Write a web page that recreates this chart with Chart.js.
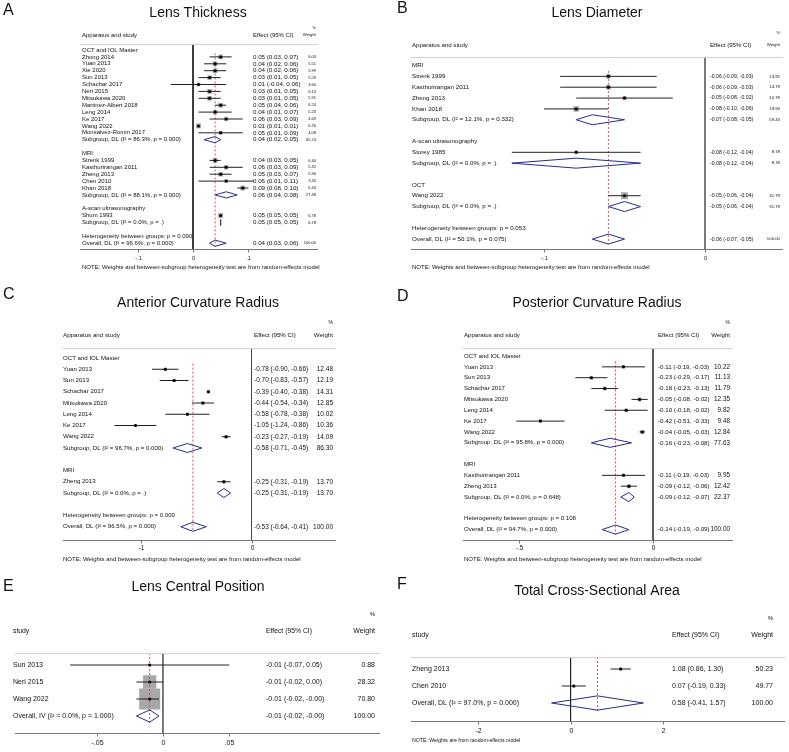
<!DOCTYPE html>
<html>
<head>
<meta charset="utf-8">
<script src="https://cdn.jsdelivr.net/npm/chart.js@4.4.0/dist/chart.umd.min.js"></script>
<style>
  body { margin: 0; background: #fff; }
  #page { position: relative; width: 789px; height: 752px; background: #fff; overflow: hidden; }
  canvas { position: absolute; }
</style>
</head>
<body>
<div id="page"></div>
<script>
// A: Lens Thickness
const thickLabels = ['OCT and IOL Master', 'Zhong 2014', 'Yuan 2013', 'Xie 2020', 'Sun 2013', 'Schachar 2017', 'Neri 2015',
  'Mitsukawa 2020', 'Martinez-Albert 2018', 'Leng 2014', 'Ke 2017', 'Wang 2022', 'Monsalvez-Romin 2017',
  'Subgroup, DL (I² = 86.3%, p = 0.000)', '', 'MRI', 'Strenk 1999', 'Kasthurirangan 2011', 'Zheng 2013', 'Chen 2010',
  'Khan 2018', 'Subgroup, DL (I² = 88.1%, p = 0.000)', '', 'A-scan ultrasonography', 'Shum 1993',
  'Subgroup, DL (I² = 0.0%, p = .)', '', 'Heterogeneity between groups: p = 0.090', 'Overall, DL (I² = 96.6%, p = 0.000)'];
const thickKind = ['grp', 'stu', 'stu', 'stu', 'stu', 'stu', 'stu', 'stu', 'stu', 'stu', 'stu', 'stu', 'stu', 'sub', '',
  'grp', 'stu', 'stu', 'stu', 'stu', 'stu', 'sub', '', 'grp', 'stu', 'sub', '', 'het', 'all'];
const thickEst = [null, .05, .04, .04, .03, .01, .03, .03, .05, .04, .06, .01, .05, .04, null, null, .04, .06, .05, .06, .09, .06, null, null, .05, .05, null, null, .04];
const thickLo = [null, .03, .02, .02, .01, -.04, .01, .01, .04, .01, .03, .01, .01, .02, null, null, .03, .03, .03, .01, .08, .04, null, null, .05, .05, null, null, .03];
const thickHi = [null, .07, .06, .06, .05, .06, .05, .05, .06, .07, .09, .01, .09, .05, null, null, .05, .09, .07, .11, .10, .08, null, null, .05, .05, null, null, .06];
const thickWt = [null, 6.03, 5.51, 5.99, 5.59, 3.60, 6.13, 5.91, 6.24, 5.23, 4.69, 6.76, 4.08, 65.74, null, null, 6.40, 5.32, 5.96, 3.45, 6.34, 27.48, null, null, 6.78, 6.78, null, null, 100.00];
const thickTicks = [-0.1, 0, 0.1];
const thickTickLabels = ['-.1', '0', '.1'];

// B: Lens Diameter
const diamLabels = ['MRI', 'Strenk 1999', 'Kasthurirangan 2011', 'Zheng 2013', 'Khan 2018', 'Subgroup, DL (I² = 12.1%, p = 0.332)', '',
  'A-scan ultrasonography', 'Storey 1985', 'Subgroup, DL (I² = 0.0%, p = .)', '', 'OCT', 'Wang 2022',
  'Subgroup, DL (I² = 0.0%, p = .)', '', 'Heterogeneity between groups: p = 0.053', 'Overall, DL (I² = 50.1%, p = 0.075)'];
const diamKind = ['grp', 'stu', 'stu', 'stu', 'stu', 'sub', '', 'grp', 'stu', 'sub', '', 'grp', 'stu', 'sub', '', 'het', 'all'];
const diamEst = [null, -.06, -.06, -.05, -.08, -.07, null, null, -.08, -.08, null, null, -.05, -.05, null, null, -.06];
const diamLo = [null, -.09, -.09, -.08, -.10, -.08, null, null, -.12, -.12, null, null, -.06, -.06, null, null, -.07];
const diamHi = [null, -.03, -.03, -.02, -.06, -.05, null, null, -.04, -.04, null, null, -.04, -.04, null, null, -.05];
const diamWt = [null, 13.92, 14.79, 10.78, 19.94, 59.43, null, null, 8.78, 8.78, null, null, 31.79, 31.79, null, null, 100.00];
const diamTicks = [-0.1, 0];
const diamTickLabels = ['-.1', '0'];

// C: Anterior Curvature Radius
const antLabels = ['OCT and IOL Master', 'Yuan 2013', 'Sun 2013', 'Schachar 2017', 'Mitsukawa 2020', 'Leng 2014', 'Ke 2017', 'Wang 2022',
  'Subgroup, DL (I² = 96.7%, p = 0.000)', '', 'MRI', 'Zheng 2013', 'Subgroup, DL (I² = 0.0%, p = .)', '',
  'Heterogeneity between groups: p = 0.000', 'Overall, DL (I² = 96.5%, p = 0.000)'];
const antKind = ['grp', 'stu', 'stu', 'stu', 'stu', 'stu', 'stu', 'stu', 'sub', '', 'grp', 'stu', 'sub', '', 'het', 'all'];
const antEst = [null, -.78, -.70, -.39, -.44, -.58, -1.05, -.23, -.58, null, null, -.25, -.25, null, null, -.53];
const antLo = [null, -.90, -.83, -.40, -.54, -.78, -1.24, -.27, -.71, null, null, -.31, -.31, null, null, -.64];
const antHi = [null, -.66, -.57, -.38, -.34, -.38, -.86, -.19, -.45, null, null, -.19, -.19, null, null, -.41];
const antWt = [null, 12.48, 12.19, 14.31, 12.85, 10.02, 10.36, 14.09, 86.30, null, null, 13.70, 13.70, null, null, 100.00];
const antTicks = [-1, 0];
const antTickLabels = ['-1', '0'];

// D: Posterior Curvature Radius
const postLabels = ['OCT and IOL Master', 'Yuan 2013', 'Sun 2013', 'Schachar 2017', 'Mitsukawa 2020', 'Leng 2014', 'Ke 2017', 'Wang 2022',
  'Subgroup, DL (I² = 95.8%, p = 0.000)', '', 'MRI', 'Kasthurirangan 2011', 'Zheng 2013', 'Subgroup, DL (I² = 0.0%, p = 0.648)', '',
  'Heterogeneity between groups: p = 0.108', 'Overall, DL (I² = 94.7%, p = 0.000)'];
const postKind = ['grp', 'stu', 'stu', 'stu', 'stu', 'stu', 'stu', 'stu', 'sub', '', 'grp', 'stu', 'stu', 'sub', '', 'het', 'all'];
const postEst = [null, -.11, -.23, -.18, -.05, -.10, -.42, -.04, -.16, null, null, -.11, -.09, -.09, null, null, -.14];
const postLo = [null, -.19, -.29, -.23, -.08, -.18, -.51, -.05, -.23, null, null, -.19, -.12, -.12, null, null, -.19];
const postHi = [null, -.03, -.17, -.13, -.02, -.02, -.33, -.03, -.08, null, null, -.03, -.06, -.07, null, null, -.09];
const postWt = [null, 10.22, 11.13, 11.79, 12.35, 9.82, 9.48, 12.84, 77.63, null, null, 9.95, 12.42, 22.37, null, null, 100.00];
const postTicks = [-0.5, 0];
const postTickLabels = ['-.5', '0'];

// E: Lens Central Position
const centLabels = ['Sun 2013', 'Neri 2015', 'Wang 2022', 'Overall, IV (I² = 0.0%, p = 1.000)'];
const centKind = ['stu', 'stu', 'stu', 'all'];
const centEst = [-.01, -.01, -.01, -.01];
const centLo = [-.07, -.02, -.02, -.02];
const centHi = [.05, .00, -.003, -.003];
const centWt = [0.88, 28.32, 70.80, 100.00];
const centTicks = [-0.05, 0, 0.05];
const centTickLabels = ['-.05', '0', '.05'];

// F: Total Cross-Sectional Area
const areaLabels = ['Zheng 2013', 'Chen 2010', 'Overall, DL (I² = 97.0%, p = 0.000)'];
const areaKind = ['stu', 'stu', 'all'];
const areaEst = [1.08, .07, .58];
const areaLo = [.86, -.19, -.41];
const areaHi = [1.30, .33, 1.57];
const areaWt = [50.23, 49.77, 100.00];
const areaTicks = [-2, 0, 2];
const areaTickLabels = ['-2', '0', '2'];

const FONT = '"Liberation Sans", Arial, Helvetica, sans-serif';
const NOTE_RE = 'NOTE: Weights and between-subgroup heterogeneity test are from random-effects model';
const NOTE_W = 'NOTE: Weights are from random-effects model';

const panels = [
  { letter: 'A', title: 'Lens Thickness', left: 0, top: 0, w: 395, h: 280,
    labels: thickLabels, kind: thickKind, est: thickEst, lo: thickLo, hi: thickHi, wt: thickWt, ticks: thickTicks, tickLabels: thickTickLabels,
    letterX: 3, letterY: 11, titleX: 198, titleY: 13, box: [80, 44, 318, 249], zeroX: 193, unit: 553, row0: 50, rowH: 6.9,
    labelX: 82, effX: 253, wtX: 316, pctY: 28, headY: 35, tickY: 258, noteY: 267, note: NOTE_RE, head: 'Apparatus and study',
    sq: 1.9, dia: 0.45, dashTop: 0.5, nullColor: '#222',
    fs: { label: 6, eff: 6.2, wt: 4, head: 6, headWt: 4.3, pct: 4, tick: 5.5, note: 6 } },
  { letter: 'B', title: 'Lens Diameter', left: 395, top: 0, w: 394, h: 280,
    labels: diamLabels, kind: diamKind, est: diamEst, lo: diamLo, hi: diamHi, wt: diamWt, ticks: diamTicks, tickLabels: diamTickLabels,
    letterX: 2, letterY: 9, titleX: 202, titleY: 13, box: [16, 57, 388, 249], zeroX: 310, unit: 1610, row0: 65.5, rowH: 10.85,
    labelX: 17, effX: 315, wtX: 385, pctY: 33, headY: 45, tickY: 258, noteY: 267, note: NOTE_RE, head: 'Apparatus and study',
    sq: 1.24, dia: 0.46, dashTop: 0.5, nullColor: '#666',
    fs: { label: 6.2, eff: 5.2, wt: 4.3, head: 6.1, headWt: 4.3, pct: 4, tick: 5.5, note: 6 } },
  { letter: 'C', title: 'Anterior Curvature Radius', left: 0, top: 280, w: 395, h: 285,
    labels: antLabels, kind: antKind, est: antEst, lo: antLo, hi: antHi, wt: antWt, ticks: antTicks, tickLabels: antTickLabels,
    letterX: 3, letterY: 15, titleX: 198, titleY: 23, box: [63, 68, 336, 260], zeroX: 251.5, unit: 110.5, row0: 78, rowH: 11.25,
    labelX: 63, effX: 254, wtX: 333, pctY: 43, headY: 55, tickY: 268, noteY: 279, note: NOTE_RE, head: 'Apparatus and study',
    sq: 0.95, dia: 0.4, dashTop: 0.5, nullColor: '#444',
    fs: { label: 6.1, eff: 6.5, wt: 6.5, head: 6.2, headWt: 6.2, pct: 5, tick: 6.5, note: 6 } },
  { letter: 'D', title: 'Posterior Curvature Radius', left: 395, top: 280, w: 394, h: 285,
    labels: postLabels, kind: postKind, est: postEst, lo: postLo, hi: postHi, wt: postWt, ticks: postTicks, tickLabels: postTickLabels,
    letterX: 2, letterY: 17, titleX: 202, titleY: 23, box: [68, 68, 338, 260], zeroX: 258, unit: 268, row0: 76, rowH: 10.85,
    labelX: 69, effX: 263, wtX: 335, pctY: 43, headY: 55, tickY: 268, noteY: 279, note: NOTE_RE, head: 'Apparatus and study',
    sq: 1.1, dia: 0.42, dashTop: 0.5, nullColor: '#444',
    fs: { label: 6.1, eff: 6.2, wt: 6.4, head: 6.1, headWt: 6.1, pct: 5, tick: 6.3, note: 6 } },
  { letter: 'E', title: 'Lens Central Position', left: 0, top: 565, w: 395, h: 187,
    labels: centLabels, kind: centKind, est: centEst, lo: centLo, hi: centHi, wt: centWt, ticks: centTicks, tickLabels: centTickLabels,
    letterX: 3, letterY: 22, titleX: 198, titleY: 22, box: [12, 88, 387, 168], zeroX: 164, unit: 1360, row0: 100, rowH: 17,
    labelX: 13, effX: 266, wtX: 375, pctY: 49, headY: 66, tickY: 178, noteY: null, note: '', head: 'study',
    sq: 2.5, dia: 0.36, dashTop: null, nullColor: '#666',
    fs: { label: 7, eff: 7, wt: 7, head: 6.8, headWt: 7, pct: 6, tick: 7, note: 5 } },
  { letter: 'F', title: 'Total Cross-Sectional Area', left: 395, top: 565, w: 394, h: 187,
    labels: areaLabels, kind: areaKind, est: areaEst, lo: areaLo, hi: areaHi, wt: areaWt, ticks: areaTicks, tickLabels: areaTickLabels,
    letterX: 2, letterY: 20, titleX: 202, titleY: 26, box: [16, 92, 391, 156], zeroX: 176, unit: 46.5, row0: 104, rowH: 17,
    labelX: 17, effX: 277, wtX: 378, pctY: 53, headY: 70, tickY: 166, noteY: 176, note: NOTE_W, head: 'study',
    sq: 0.42, dia: 0.42, dashTop: null, nullColor: '#222',
    fs: { label: 7, eff: 7, wt: 7, head: 7, headWt: 7, pct: 6, tick: 7, note: 5.2 } }
];

const fmt = v => v.toFixed(2);
const font = s => s + 'px ' + FONT;

function makeTextPlugin(p) {
  return {
    id: 'forestText' + p.letter,
    afterDraw(chart) {
      const ctx = chart.ctx, xs = chart.scales.x, ys = chart.scales.y, a = chart.chartArea;
      ctx.save();
      ctx.fillStyle = '#111';
      ctx.textBaseline = 'middle';

      ctx.font = font(16); ctx.textAlign = 'left';
      ctx.fillText(p.letter, p.letterX, p.letterY);
      ctx.font = font(14); ctx.textAlign = 'center';
      ctx.fillText(p.title, p.titleX, p.titleY);

      // column headers
      ctx.font = font(p.fs.head); ctx.textAlign = 'left';
      ctx.fillText(p.head, p.labelX, p.headY);
      ctx.fillText('Effect (95% CI)', p.effX, p.headY);
      ctx.font = font(p.fs.headWt); ctx.textAlign = 'right';
      ctx.fillText('Weight', p.wtX, p.headY);
      ctx.font = font(p.fs.pct);
      ctx.fillText('%', p.wtX, p.pctY);

      // header rule and axis line
      ctx.lineWidth = 1;
      ctx.strokeStyle = '#d2d2d2';
      ctx.beginPath(); ctx.moveTo(a.left, Math.round(a.top) + 0.5); ctx.lineTo(a.right, Math.round(a.top) + 0.5); ctx.stroke();
      ctx.strokeStyle = '#777';
      const yb = Math.round(a.bottom) + 0.5;
      ctx.beginPath(); ctx.moveTo(a.left, yb); ctx.lineTo(a.right, yb); ctx.stroke();

      // x ticks
      ctx.font = font(p.fs.tick); ctx.textAlign = 'center';
      p.ticks.forEach((v, j) => {
        const x = Math.round(xs.getPixelForValue(v)) + 0.5;
        ctx.beginPath(); ctx.moveTo(x, yb); ctx.lineTo(x, yb + 3); ctx.stroke();
        ctx.fillText(p.tickLabels[j], x, p.tickY);
      });

      // row texts
      p.labels.forEach((lab, i) => {
        const y = ys.getPixelForValue(i);
        ctx.textAlign = 'left';
        ctx.font = font(p.fs.label);
        if (lab) ctx.fillText(lab, p.labelX, y);
        if (p.est[i] !== null) {
          ctx.font = font(p.fs.eff);
          ctx.fillText(`${fmt(p.est[i])} (${fmt(p.lo[i])}, ${fmt(p.hi[i])})`, p.effX, y);
          ctx.font = font(p.fs.wt); ctx.textAlign = 'right';
          ctx.fillText(fmt(p.wt[i]), p.wtX, y);
        }
      });

      if (p.note) {
        ctx.font = font(p.fs.note); ctx.textAlign = 'left';
        ctx.fillText(p.note, p.labelX, p.noteY);
      }
      ctx.restore();
    }
  };
}

function drawPanel(p) {
  const cv = document.createElement('canvas');
  cv.width = p.w; cv.height = p.h;
  cv.style.left = p.left + 'px'; cv.style.top = p.top + 'px';
  cv.style.width = p.w + 'px'; cv.style.height = p.h + 'px';
  document.getElementById('page').appendChild(cv);

  const [bl, bt, br, bb] = p.box;
  const xMin = (bl - p.zeroX) / p.unit, xMax = (br - p.zeroX) / p.unit;
  const yMin = (bt - p.row0) / p.rowH, yMax = (bb - p.row0) / p.rowH;

  const studies = p.kind.map((k, i) => k === 'stu' ? i : -1).filter(i => i >= 0);
  const pts = studies.map(i => ({ x: p.est[i], y: i }));
  const datasets = [];

  studies.forEach(i => datasets.push({
    data: [{ x: p.lo[i], y: i }, { x: p.hi[i], y: i }],
    showLine: true, borderColor: '#222', borderWidth: 1, pointRadius: 0, order: 2
  }));
  datasets.push({
    data: pts, pointStyle: 'rect', backgroundColor: '#a8a8a8', borderWidth: 0,
    pointRadius: studies.map(i => p.sq * Math.sqrt(p.wt[i]) / Math.SQRT2), order: 4
  });
  datasets.push({ data: pts, pointStyle: 'circle', backgroundColor: '#000', borderWidth: 0, pointRadius: 1.5, order: 1 });

  p.kind.forEach((k, i) => {
    if (k !== 'sub' && k !== 'all') return;
    datasets.push({
      data: [{ x: p.lo[i], y: i }, { x: p.est[i], y: i - p.dia }, { x: p.hi[i], y: i },
             { x: p.est[i], y: i + p.dia }, { x: p.lo[i], y: i }],
      showLine: true, fill: false, borderColor: '#262b8c', borderWidth: 1, pointRadius: 0, order: 1
    });
  });

  // line of no effect
  datasets.push({
    data: [{ x: 0, y: yMin }, { x: 0, y: yMax }],
    showLine: true, borderColor: p.nullColor, borderWidth: 1, pointRadius: 0, order: 6
  });
  // overall effect
  const o = p.kind.indexOf('all');
  datasets.push({
    data: [{ x: p.est[o], y: p.dashTop === null ? yMin : p.dashTop }, { x: p.est[o], y: o + 0.45 }],
    showLine: true, borderColor: '#d23c3c', borderDash: [2, 2], borderWidth: 0.9, pointRadius: 0, order: 3
  });

  new Chart(cv.getContext('2d'), {
    type: 'scatter',
    data: { datasets: datasets },
    options: {
      responsive: false,
      animation: false,
      events: [],
      layout: { padding: { left: bl, right: p.w - br, top: bt, bottom: p.h - bb } },
      scales: {
        x: { type: 'linear', min: xMin, max: xMax, display: false },
        y: { type: 'linear', min: yMin, max: yMax, reverse: true, display: false }
      },
      plugins: { legend: { display: false }, tooltip: { enabled: false }, title: { display: false } }
    },
    plugins: [makeTextPlugin(p)]
  });
}

panels.forEach(drawPanel);
</script>
</body>
</html>
